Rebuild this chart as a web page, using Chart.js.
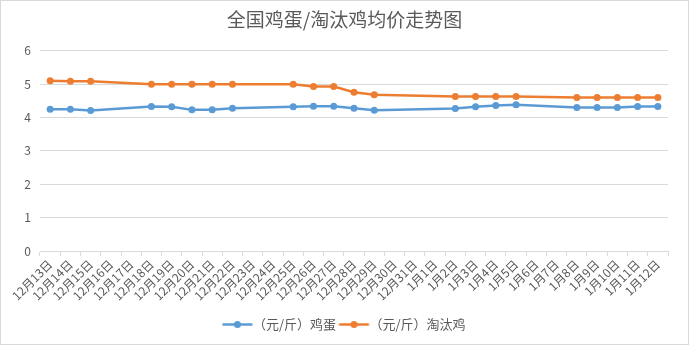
<!DOCTYPE html>
<html>
<head>
<meta charset="utf-8">
<script src="https://cdn.jsdelivr.net/npm/chart.js@4/dist/chart.umd.min.js"></script>
<style>
  body { margin: 0; background: #fff; }
  #box { width: 689px; height: 345px; box-sizing: border-box; border: 1px solid #d9d9d9; }
  canvas { display: block; }
</style>
</head>
<body>
<div id="box"><canvas id="myChart" width="687" height="343"></canvas></div>
<script>
// dates on the x axis
var days = ["12月13日","12月14日","12月15日","12月16日","12月17日","12月18日","12月19日","12月20日","12月21日","12月22日",
  "12月23日","12月24日","12月25日","12月26日","12月27日","12月28日","12月29日","12月30日","12月31日",
  "1月1日","1月2日","1月3日","1月4日","1月5日","1月6日","1月7日","1月8日","1月9日","1月10日","1月11日","1月12日"];
// null = no quote that day
var egg = [4.25,4.25,4.21,null,null,4.33,4.32,4.23,4.23,4.28,null,null,4.32,4.34,4.34,4.28,4.22,null,null,
  null,4.27,4.32,4.36,4.38,null,null,4.30,4.30,4.30,4.33,4.33];
var hen = [5.10,5.09,5.09,null,null,5.00,5.00,5.00,5.00,5.00,null,null,5.00,4.93,4.93,4.76,4.68,null,null,
  null,4.63,4.63,4.63,4.63,null,null,4.60,4.60,4.60,4.60,4.60];
var yTicks = [0,1,2,3,4,5,6];

var font = "'Noto Sans CJK SC', 'Noto Sans', sans-serif";
var grey = "#595959";
var blue = "#5b9bd5", orange = "#ed7d31";

// legend marker: short line with a dot, shifted a bit inside a wider canvas
function icon(c){
  var cv = document.createElement("canvas");
  cv.width = 40; cv.height = 9;
  var x = cv.getContext("2d");
  x.strokeStyle = c; x.lineWidth = 2.5;
  x.beginPath(); x.moveTo(7.5,4.5); x.lineTo(37.5,4.5); x.stroke();
  x.fillStyle = c;
  x.beginPath(); x.arc(22.5,4.5,3.5,0,Math.PI*2); x.fill();
  return cv;
}
var icons = [icon(blue), icon(orange)];

var charts = document.querySelector("#myChart").getContext('2d');
new Chart(charts, {
  type: 'line',
  data: {
    labels: days,
    datasets: [{
      label: "（元/斤）鸡蛋",
      data: egg,
      borderColor: blue,
      backgroundColor: blue,
      borderWidth: 2.5,
      pointRadius: 3.5,
      pointBorderWidth: 0,
      spanGaps: true,
    },{
      label: "（元/斤）淘汰鸡",
      data: hen,
      borderColor: orange,
      backgroundColor: orange,
      borderWidth: 2.5,
      pointRadius: 3.5,
      pointBorderWidth: 0,
      spanGaps: true,
    }],
  },
  options: {
    responsive: false,
    animation: false,
    layout: { padding: { left: 0, right: 0, bottom: 3 } },
    plugins: {
      title: {
        display: true,
        text: "全国鸡蛋/淘汰鸡均价走势图",
        color: grey,
        font: { family: font, size: 19, weight: 'normal' },
        padding: { top: 7, bottom: 20 }
      },
      legend: {
        position: 'bottom',
        labels: {
          usePointStyle: true,
          pointStyleWidth: 23,
          padding: 4,
          color: grey,
          font: { family: font, size: 13 },
          generateLabels: function(chart){
            return Chart.defaults.plugins.legend.labels.generateLabels(chart).map(function(l,i){
              l.pointStyle = icons[i];
              return l;
            });
          }
        }
      },
      tooltip: { enabled: false }
    },
    scales: {
      x: {
        offset: true,
        afterFit: function(s){ s.height += 10; },
        grid: { offset: true, drawOnChartArea: false, drawTicks: true, tickLength: 5, color: "#d9d9d9" },
        border: { color: "#d9d9d9" },
        ticks: { color: grey, font: { family: font, size: 12 }, minRotation: 45, maxRotation: 45, autoSkip: false, padding: 1 }
      },
      y: {
        min: 0,
        max: 6,
        afterBuildTicks: function(s){ s.ticks = yTicks.map(function(v){ return { value: v }; }); },
        afterFit: function(s){ s.width = 39; },
        grid: { color: "#d9d9d9", drawTicks: false },
        border: { display: false },
        ticks: { color: grey, font: { family: font, size: 12 }, padding: 9 }
      },
      // empty strip on the right so the plot ends where the reference does
      y2: {
        position: 'right',
        afterFit: function(s){ s.width = 20; },
        grid: { display: false },
        border: { display: false },
        ticks: { display: false }
      }
    }
  }
});
</script>
</body>
</html>
